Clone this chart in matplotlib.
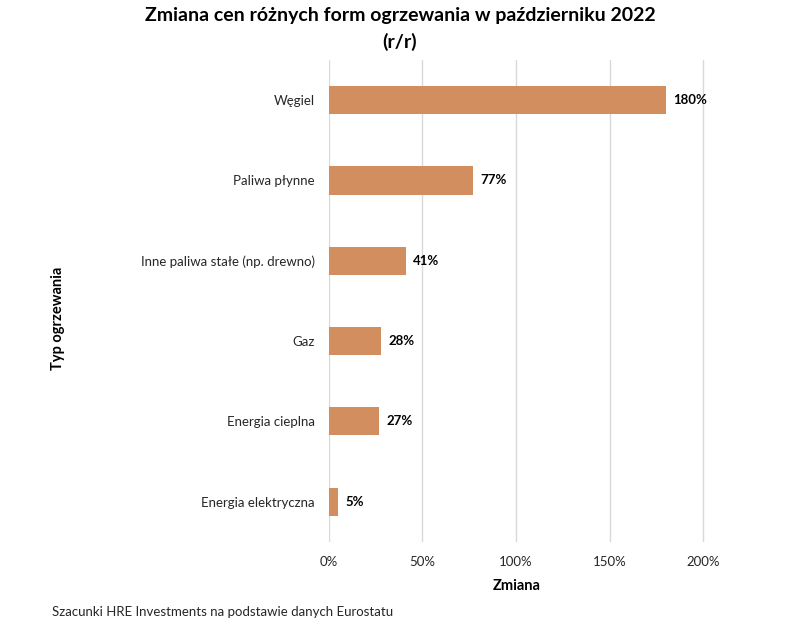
import matplotlib
matplotlib.use("Agg")
import matplotlib.pyplot as plt
from matplotlib.ticker import FuncFormatter

categories = ["Węgiel", "Paliwa płynne", "Inne paliwa stałe (np. drewno)", "Gaz",
              "Energia cieplna", "Energia elektryczna"]
values = [180, 77, 41, 28, 27, 5]
xticks = [0, 50, 100, 150, 200]

plt.rcParams['font.family'] = ['Lato', 'DejaVu Sans']

fig = plt.figure(figsize=(8, 6.25), dpi=100)
ax = fig.add_axes([0.411, 0.133, 0.4703, 0.771])

ypos = list(range(len(categories)))
ax.barh(ypos, values, height=0.35, color='#D38E5F', zorder=3)
ax.set_ylim(len(categories) - 0.5, -0.5)
ax.set_xlim(0, 201)
ax.set_yticks(ypos)
ax.set_yticklabels(categories, fontsize=9.5, color='#262626')
ax.set_xticks(xticks)
ax.xaxis.set_major_formatter(FuncFormatter(lambda v, p: f"{int(v)}%"))
ax.tick_params(axis='x', labelsize=9.5, colors='#262626', length=0, pad=10)
ax.tick_params(axis='y', length=0, pad=10)
ax.grid(axis='x', color='#D9D9D9', linewidth=1, zorder=0)
for s in ax.spines.values():
    s.set_visible(False)

for y, v in zip(ypos, values):
    ax.text(v + 4, y, f"{v}%", va='center', ha='left', fontsize=9.5,
            fontweight='bold', color='black')

ax.set_xlabel("Zmiana", fontsize=10.5, fontweight='bold', labelpad=8)
fig.text(0.072, 0.49, "Typ ogrzewania", rotation=90, fontsize=10.5,
         fontweight='bold', ha='center', va='center')

fig.text(0.5, 0.988, "Zmiana cen różnych form ogrzewania w październiku 2022\n(r/r)",
         ha='center', va='top', fontsize=14, fontweight='bold', linespacing=1.55)
fig.text(0.065, 0.012, "Szacunki HRE Investments na podstawie danych Eurostatu",
         fontsize=9.5, ha='left', va='bottom', color='#262626')

fig.savefig("out.png", dpi=100)
